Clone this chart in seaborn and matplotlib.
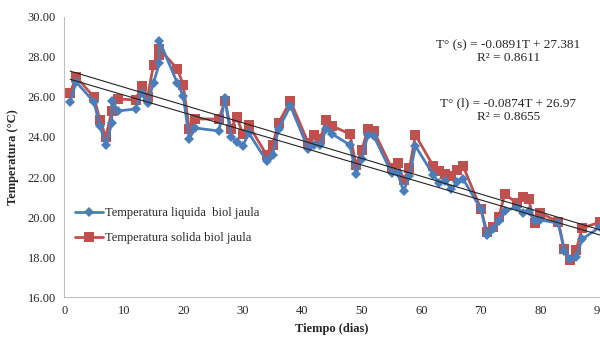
import matplotlib
matplotlib.use("Agg")
import matplotlib.pyplot as plt
import seaborn as sns
import numpy as np
import pandas as pd

sns.set_theme(style="white")
plt.rcParams['font.family'] = ['Liberation Serif', 'DejaVu Serif']

# Dias de medicion
dias_solido = [1, 2, 5, 6, 7, 8, 9, 12, 13, 14, 15, 16, 16, 19, 20, 21, 22, 26, 27, 28,
               29, 30, 31, 34, 35, 36, 38, 41, 42, 43, 44, 45, 48, 49, 50, 51, 52, 55, 56,
               57, 58, 59, 62, 63, 64, 65, 66, 67, 70, 71, 72, 73, 74, 76, 77, 78, 79, 80,
               83, 84, 85, 86, 87, 90]
temp_solido = [26.2, 27.0, 26.0, 24.85, 24.0, 25.3, 25.9, 25.85, 26.55, 26.0, 27.6, 28.1, 28.4,
               27.4, 26.6, 24.4, 24.9, 24.9, 25.8, 24.4, 25.0, 24.15, 24.6, 23.1, 23.6, 24.7,
               25.8, 23.7, 24.1, 23.9, 24.85, 24.55, 24.15, 22.6, 23.35, 24.4, 24.3, 22.45,
               22.68, 21.85, 22.45, 24.1, 22.55, 22.3, 22.15, 22.05, 22.35, 22.55, 20.4, 19.25,
               19.5, 20.0, 21.15, 20.7, 21.0, 20.9, 19.7, 20.2, 19.75, 18.4, 17.85, 18.35,
               19.45, 19.75]

dias_liquido = [1, 2, 5, 6, 7, 8, 8, 9, 12, 13, 14, 15, 16, 16, 19, 20, 21, 22, 26, 27, 28,
                29, 30, 31, 34, 35, 36, 38, 41, 42, 43, 44, 45, 48, 49, 50, 51, 52, 55, 56,
                57, 58, 59, 62, 63, 64, 65, 66, 67, 70, 71, 72, 73, 74, 76, 77, 78, 79, 80,
                83, 84, 85, 86, 87, 90]
temp_liquido = [25.75, 26.75, 25.75, 24.55, 23.6, 24.7, 25.8, 25.3, 25.4, 26.2, 25.7, 26.7,
                27.7, 28.8, 26.7, 26.05, 23.9, 24.45, 24.3, 25.95, 24.0, 23.75, 23.55, 24.2,
                22.8, 23.1, 24.4, 25.55, 23.4, 23.6, 23.6, 24.4, 24.15, 23.6, 22.15, 22.9,
                24.1, 24.05, 22.2, 22.2, 21.3, 22.05, 23.55, 22.1, 21.7, 21.8, 21.4, 21.75,
                21.9, 20.4, 19.1, 19.4, 19.8, 20.3, 20.5, 20.2, 20.3, 19.8, 19.85, 19.7, 18.3,
                17.9, 18.0, 18.9, 19.5]

# Lineas de tendencia (coeficientes del grafico)
pend_s, int_s = -0.0891, 27.381
pend_l, int_l = -0.0874, 26.97

df_l = pd.DataFrame({'dia': dias_liquido, 'temp': temp_liquido})
df_s = pd.DataFrame({'dia': dias_solido, 'temp': temp_solido})

fig = plt.figure(figsize=(6, 3.38), dpi=100)
ax = fig.add_axes([0.107, 0.121, 0.893, 0.829])

azul = '#4A7EBB'
rojo = '#C0504D'

sns.lineplot(data=df_l, x='dia', y='temp', ax=ax, color=azul, marker='D',
             markersize=4.8, markeredgewidth=0, linewidth=2.0, estimator=None, sort=False,
             label='Temperatura liquida  biol jaula', zorder=3)
sns.lineplot(data=df_s, x='dia', y='temp', ax=ax, color=rojo, marker='s',
             markersize=7.5, markeredgewidth=0, linewidth=2.0, estimator=None, sort=False,
             label='Temperatura solida biol jaula', zorder=2)

xt = np.array([min(dias_solido), max(dias_solido)])
ax.plot(xt, pend_s * xt + int_s, color='#222222', linewidth=0.8, zorder=4)
ax.plot(xt, pend_l * xt + int_l, color='#222222', linewidth=0.8, zorder=4)

ax.text(74.6, 28.6, 'T° (s) = -0.0891T + 27.381', ha='center', va='center', fontsize=9.5)
ax.text(74.6, 27.95, 'R² = 0.8611', ha='center', va='center', fontsize=9.5)
ax.text(74.6, 25.7, 'T° (l) = -0.0874T + 26.97', ha='center', va='center', fontsize=9.5)
ax.text(74.6, 25.0, 'R² = 0.8655', ha='center', va='center', fontsize=9.5)

ax.set_xlim(0, 90)
ax.set_ylim(16, 30)
ax.set_xticks(range(0, 91, 10))
ax.set_yticks(np.arange(16, 30.1, 2))
ax.yaxis.set_major_formatter(matplotlib.ticker.FormatStrFormatter('%.2f'))
ax.tick_params(axis='both', labelsize=9, length=0, pad=6)
ax.set_xlabel('Tiempo (dias)', fontsize=9, fontweight='bold', labelpad=4)
ax.set_ylabel('Temperatura (°C)', fontsize=9, fontweight='bold', labelpad=6)

for lado in ['top', 'right']:
    ax.spines[lado].set_visible(False)
for lado in ['left', 'bottom']:
    ax.spines[lado].set_color('#BFBFBF')
    ax.spines[lado].set_linewidth(0.8)

ax.legend(loc='upper left', bbox_to_anchor=(0.0, 0.36), frameon=False, fontsize=9,
          handlelength=2.2, handletextpad=0.2, labelspacing=1.0)

fig.savefig('out.png', dpi=100)
